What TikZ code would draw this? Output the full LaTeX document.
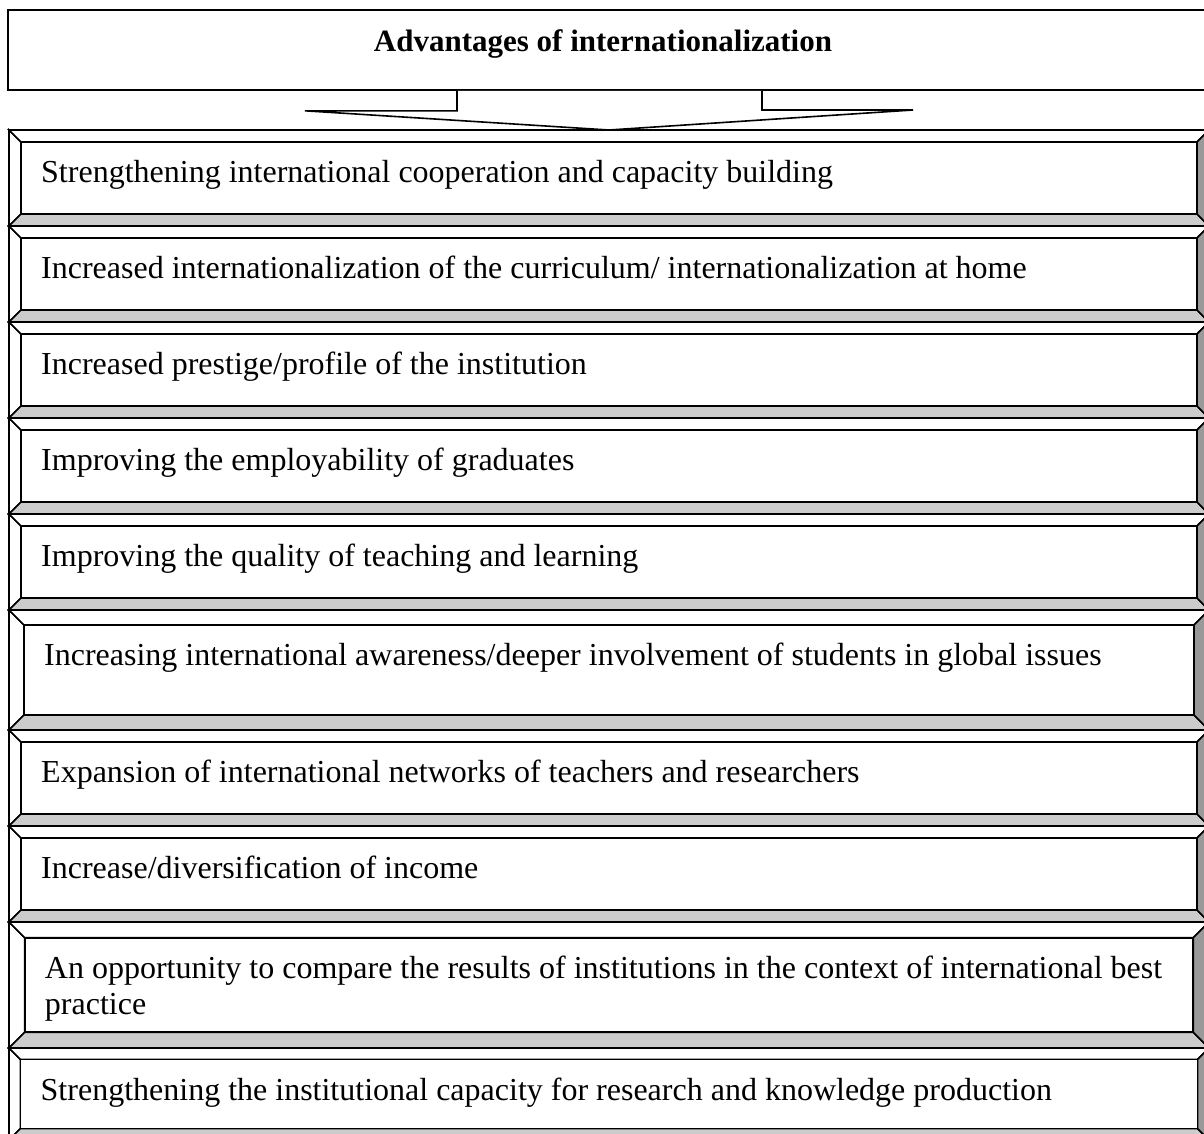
\documentclass[tikz,border=0pt]{standalone}
\usepackage{fontspec}
\setmainfont{Liberation Serif}
\definecolor{bevellight}{gray}{0.80}
\definecolor{beveldark}{gray}{0.60}

% one bevelled row: name, top, height, text
\newcommand{\bevelrow}[4]{%
  \pgfmathsetmacro{\bv}{0.125*#3}
  \pgfmathsetmacro{\rb}{#2+#3}
  \filldraw[rowline, fill=white] (9,#2) -- (9,\rb) -- (9+\bv,\rb-\bv) -- (9+\bv,#2+\bv) -- cycle;
  \filldraw[rowline, fill=white] (9,#2) -- (1209,#2) -- (1209-\bv,#2+\bv) -- (9+\bv,#2+\bv) -- cycle;
  \filldraw[rowline, fill=bevellight] (9,\rb) -- (1209,\rb) -- (1209-\bv,\rb-\bv) -- (9+\bv,\rb-\bv) -- cycle;
  \filldraw[rowline, fill=beveldark] (1209,#2) -- (1209,\rb) -- (1209-\bv,\rb-\bv) -- (1209-\bv,#2+\bv) -- cycle;
  \filldraw[rowline, fill=white] (9+\bv,#2+\bv) rectangle (1209-\bv,\rb-\bv);
  \node[rowtext] (#1) at (29+\bv,#2+\bv+18) {#4};
}

\begin{document}
\begin{tikzpicture}[
    x=1pt, y=-1pt,
    rowline/.style={line width=1.6pt, line join=miter},
    rowtext/.style={
        anchor=north west,
        align=left,
        inner sep=0pt,
        font=\fontsize{32}{36}\selectfont
    },
    headbox/.style={
        rectangle,
        draw=black,
        line width=1.6pt,
        fill=white,
        minimum width=1202pt,
        minimum height=80pt
    },
    titletext/.style={
        anchor=base,
        inner sep=0pt,
        font=\fontsize{31}{36}\selectfont\bfseries
    },
    blockarrow/.style={line width=1.6pt, fill=white, line join=miter}
]
\useasboundingbox (0,0) rectangle (1204,1133);

% Header
\node[headbox] (head) at (609,50) {};
\node[titletext] (title) at (603,51) {Advantages of internationalization};

% Rows
\bevelrow{r1}{130}{96}{Strengthening international cooperation and capacity building}
\bevelrow{r2}{226}{96}{Increased internationalization of the curriculum/ internationalization at home}
\bevelrow{r3}{322}{96}{Increased prestige/profile of the institution}
\bevelrow{r4}{418}{96}{Improving the employability of graduates}
\bevelrow{r5}{514}{96}{Improving the quality of teaching and learning}
\bevelrow{r6}{610}{120}{Increasing international awareness/deeper involvement of students in global issues}
\bevelrow{r7}{730}{96}{Expansion of international networks of teachers and researchers}
\bevelrow{r8}{826}{96}{Increase/diversification of income}
\bevelrow{r9}{922}{126}{An opportunity to compare the results of institutions in the context of international best\\practice}
\bevelrow{r10}{1048}{92}{Strengthening the institutional capacity for research and knowledge production}

% Arrow
\coordinate (tip) at (609,130);
\filldraw[blockarrow] ([xshift=-152pt]head.south) -- ++(0,20) -- ++(-152,0) -- (tip)
    -- ++(304,-20) -- ++(-151,0) -- ([xshift=153pt]head.south);

\end{tikzpicture}
\end{document}
